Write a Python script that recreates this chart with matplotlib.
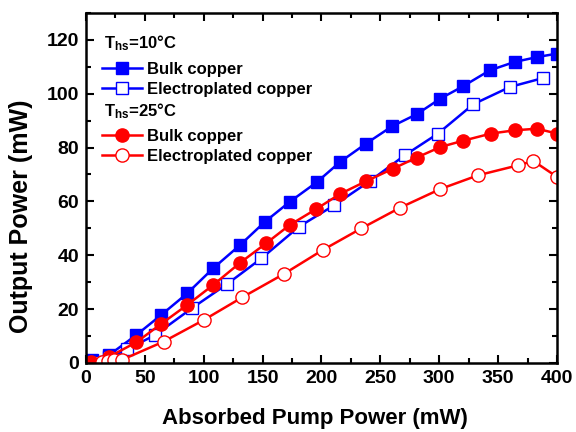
import matplotlib
matplotlib.use("Agg")
import matplotlib.pyplot as plt

# data (mW)
x_bulk_10 = [5, 20, 43, 64, 86, 108, 131, 152, 173, 196, 216, 238, 260, 281, 301, 320, 343, 364, 383, 400]
y_bulk_10 = [1.0, 3.0, 10.4, 17.8, 25.8, 35.1, 43.8, 52.4, 59.8, 67.1, 74.7, 81.5, 87.9, 92.4, 98.2, 102.7, 108.7, 111.8, 113.6, 114.9]

x_elec_10 = [8, 20, 35, 59, 90, 120, 149, 181, 211, 241, 271, 299, 329, 360, 388]
y_elec_10 = [0.5, 2.0, 5.0, 10.4, 20.3, 29.3, 38.8, 50.6, 58.6, 67.5, 77.2, 85.2, 96.1, 102.5, 105.8]

x_bulk_25 = [4, 20, 43, 64, 86, 108, 131, 153, 173, 195, 216, 238, 261, 281, 301, 320, 344, 364, 383, 400]
y_bulk_25 = [0.5, 2.3, 7.7, 14.5, 21.5, 28.9, 37.2, 44.4, 51.2, 57.0, 62.8, 67.5, 72.2, 76.3, 80.2, 82.5, 85.2, 86.4, 87.0, 85.2]

x_elec_25 = [14, 19, 24, 31, 66, 100, 133, 168, 201, 234, 267, 301, 333, 367, 380, 400]
y_elec_25 = [0.3, 0.6, 0.9, 1.2, 7.9, 15.9, 24.4, 33.0, 41.9, 50.0, 57.7, 64.6, 69.7, 73.4, 75.0, 69.1]

headers = ['T$_{hs}$=10°C', 'T$_{hs}$=25°C']

plt.rcParams['font.family'] = ['Liberation Sans', 'DejaVu Sans']
plt.rcParams['font.weight'] = 'bold'
plt.rcParams['mathtext.default'] = 'regular'

fig = plt.figure(figsize=(5.76, 4.32), dpi=100)
ax = fig.add_axes([0.149, 0.160, 0.818, 0.810])

blue = '#0000ff'
red = '#ff0000'

l1, = ax.plot(x_bulk_10, y_bulk_10, '-s', color=blue, ms=8, lw=1.8, label='Bulk copper')
l2, = ax.plot(x_elec_10, y_elec_10, '-s', color=blue, mfc='white', mec=blue, mew=1.0, ms=8.5,
              lw=1.8, label='Electroplated copper')
l3, = ax.plot(x_bulk_25, y_bulk_25, '-o', color=red, ms=9.5, lw=1.8, label='Bulk copper')
l4, = ax.plot(x_elec_25, y_elec_25, '-o', color=red, mfc='white', mec=red, mew=1.0, ms=9.5,
              lw=1.8, label='Electroplated copper')

ax.set_xlim(0, 400)
ax.set_ylim(0, 130)
ax.set_xticks(range(0, 401, 50))
ax.set_xticks(range(0, 401, 25), minor=True)
ax.set_yticks(range(0, 121, 20))
ax.set_yticks(range(0, 131, 10), minor=True)
ax.tick_params(which='both', direction='in', top=True, right=True, width=1.5)
ax.tick_params(which='major', length=6, labelsize=14, pad=5)
ax.tick_params(which='minor', length=3.5)
for s in ax.spines.values():
    s.set_linewidth(1.8)

ax.set_xlabel('Absorbed Pump Power (mW)', fontsize=16, fontweight='bold')
ax.set_ylabel('Output Power (mW)', fontsize=18, fontweight='bold')
ax.xaxis.set_label_coords(0.486, -0.13)
ax.yaxis.set_label_coords(-0.112, 0.42)

# group headers drawn as text, legends below each
ax.text(0.038, 0.90, headers[0], transform=ax.transAxes, fontsize=12, fontweight='bold', va='baseline')
ax.text(0.038, 0.706, headers[1], transform=ax.transAxes, fontsize=12, fontweight='bold', va='baseline')

leg_kw = dict(frameon=False, fontsize=12, handlelength=2.4, handletextpad=0.3,
              borderpad=0, borderaxespad=0, labelspacing=0.3, loc='upper left')
leg1 = ax.legend(handles=[l1, l2], bbox_to_anchor=(0.034, 0.859), **leg_kw)
ax.add_artist(leg1)
leg2 = ax.legend(handles=[l3, l4], bbox_to_anchor=(0.034, 0.668), **leg_kw)

fig.savefig('out.png', dpi=100)
